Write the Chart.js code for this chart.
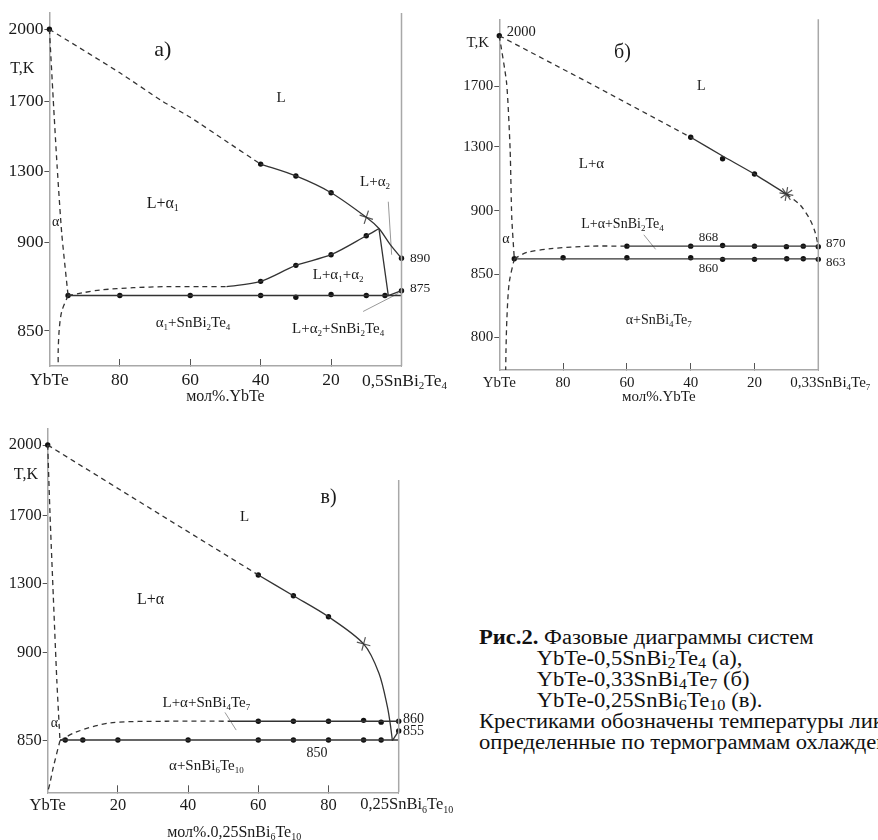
<!DOCTYPE html>
<html>
<head>
<meta charset="utf-8">
<script src="https://cdn.jsdelivr.net/npm/chart.js@4.4.1/dist/chart.umd.min.js"></script>
<style>
  body { margin: 0; width: 878px; height: 840px; overflow: hidden; background: #fff; position: relative; font-family: 'Liberation Serif', serif; }
  canvas { position: absolute; }
  #caption { position: absolute; left: 479px; top: 627px; font-size: 20px; line-height: 21px; color: #111; white-space: nowrap;
             transform: scaleX(1.13); transform-origin: 0 0; }
  #caption .ind { padding-left: 51px; }
  #caption sub { font-size: 0.72em; vertical-align: -0.22em; line-height: 0; }
</style>
</head>
<body>
<canvas id="ca" width="460" height="410" style="left:0;top:0"></canvas>
<canvas id="cb" width="438" height="410" style="left:440px;top:0"></canvas>
<canvas id="cc" width="460" height="432" style="left:0;top:410px"></canvas>
<div id="caption">
  <div><b>Рис.2.</b> Фазовые диаграммы систем</div>
  <div class="ind">YbTe-0,5SnBi<sub>2</sub>Te<sub>4</sub> (а),</div>
  <div class="ind">YbTe-0,33SnBi<sub>4</sub>Te<sub>7</sub> (б)</div>
  <div class="ind">YbTe-0,25SnBi<sub>6</sub>Te<sub>10</sub> (в).</div>
  <div>Крестиками обозначены температуры ликвидуса,</div>
  <div>определенные по термограммам охлаждения.</div>
</div>
<script>
// ---------- а) YbTe-0,5SnBi2Te4  (x = мол% YbTe) ----------
const aTicksX = [100, 80, 60, 40, 20, 0];
const aLabelsX = ['YbTe', '80', '60', '40', '20', ''];
const aEndLabel = '0,5SnBi_2Te_4';
const aTicksT = [850, 900, 1300, 1700, 2000];
const aLiqDashX = [100, 80, 68, 60, 50, 40];
const aLiqDashT = [2000, 1818, 1700, 1608, 1475, 1343];
const aLiqX = [40, 30, 20, 10, 6.4, 3.3, 0];
const aLiqT = [1343, 1276, 1181, 1042, 978, 899, 891];
const aLiqDotX = [40, 30, 20, 0];
const aLiqDotT = [1343, 1276, 1181, 891];
const aSolDashX = [94.7, 90.4, 85.6, 76.2, 66.7, 57.2, 49.7];
const aSolDashT = [870, 871.6, 873.1, 874.4, 875, 875, 875];
const aSolX = [49.7, 40, 30, 20, 10, 6.4];
const aSolT = [875, 878, 887, 893, 937, 978];
const aSolDotX = [40, 30, 20, 10];
const aSolDotT = [878, 887, 893, 937];
const aEutX = [94.7, 0];
const aEutT = [870, 870];
const aEutDotX = [94.7, 80, 60, 40, 30, 20, 10, 4.7, 0];
const aEutDotT = [870, 870, 870, 870, 869, 870.6, 870, 870, 872.7];
const aSolvusX = [6.4, 3.75, 0];
const aSolvusT = [978, 870, 872.7];
const aAlphaX = [100, 98.9, 97.8, 96.5, 94.7];
const aAlphaT = [2000, 1704, 1328, 951, 870];
const aAlphaLowX = [94.7, 96.5, 97.2, 97.5, 97.5];
const aAlphaLowT = [870, 861, 851, 839, 830];
const aCrossX = [10];
const aCrossT = [1042];

// ---------- б) YbTe-0,33SnBi4Te7  (x = мол% YbTe) ----------
const bTicksX = [100, 80, 60, 40, 20, 0];
const bLabelsX = ['YbTe', '80', '60', '40', '20', ''];
const bEndLabel = '0,33SnBi_4Te_7';
const bTicksT = [800, 850, 900, 1300, 1700];
const bLiqDashX = [100, 70, 40];
const bLiqDashT = [2000, 1700, 1362];
const bLiqX = [40, 30, 20, 10];
const bLiqT = [1362, 1242, 1129, 1004];
const bLiqDotX = [100, 40, 30, 20];
const bLiqDotT = [2000, 1362, 1225, 1129];
const bLiqTailX = [10, 5.7, 2.6, 1, 0];
const bLiqTailT = [1004, 936, 893, 883, 872];
const bAlphaX = [100, 97.7, 96.6, 96.1, 95.3];
const bAlphaT = [2000, 1716, 1279, 895, 862];
const bAlphaLowX = [95.3, 96.9, 97.6, 97.9, 98];
const bAlphaLowT = [862, 843, 816, 790, 774];
const bSolDashX = [95.3, 91.4, 83.8, 71.3, 60];
const bSolDashT = [862, 867, 870, 872, 872];
const bUpX = [60, 0];
const bUpT = [872, 872];
const bUpDotX = [60, 40, 30, 20, 10, 4.7, 0];
const bUpDotT = [872, 872, 872.5, 872, 871.6, 872, 871.6];
const bLowX = [95.3, 0];
const bLowT = [862, 862];
const bLowDotX = [95.3, 80, 60, 40, 30, 20, 9.9, 4.7, 0];
const bLowDotT = [862, 862.9, 862.9, 862.9, 861.6, 861.6, 862, 862, 861.6];
const bCrossX = [10];
const bCrossT = [1004];

// ---------- в) YbTe-0,25SnBi6Te10  (x = мол% 0,25SnBi6Te10) ----------
const cTicksX = [0, 20, 40, 60, 80, 100];
const cLabelsX = ['YbTe', '20', '40', '60', '80', ''];
const cEndLabel = '0,25SnBi_6Te_10';
const cTicksT = [850, 900, 1300, 1700, 2000];
const cLiqDashX = [0, 32.7, 60];
const cLiqDashT = [2000, 1700, 1353];
const cLiqX = [60, 70, 80, 90, 94.4, 96.8, 97.7, 98.2];
const cLiqT = [1353, 1231, 1108, 949, 888, 869, 858, 850];
const cLiqDotX = [0, 60, 70, 80];
const cLiqDotT = [2000, 1353, 1231, 1108];
const cLinkX = [98.2, 100];
const cLinkT = [850, 855.5];
const cAlphaX = [0, 0.65, 1.6, 2.6, 3.5];
const cAlphaT = [2000, 1711, 1226, 884, 850];
const cAlphaLowX = [3.5, 1.6, 0.65, 0];
const cAlphaLowT = [850, 835, 826, 821];
const cSolDashX = [3.5, 8.2, 17.7, 33.8, 52];
const cSolDashT = [850, 855, 860, 861, 861];
const cUpX = [52, 100];
const cUpT = [861, 861];
const cUpDotX = [60, 70, 80, 90, 95, 100, 100];
const cUpDotT = [861, 861, 861, 861.5, 860.5, 861, 855.5];
const cLowX = [3.5, 100];
const cLowT = [850.4, 850.4];
const cLowDotX = [5, 10, 20, 40, 60, 70, 80, 90, 95];
const cLowDotT = [850.4, 850.4, 850.4, 850.4, 850.4, 850.4, 850.4, 850.4, 850.4];
const cCrossX = [90];
const cCrossT = [949];

const SERIF = "'Liberation Serif', serif";
const INK = '#1a1a1a';
const LINE = '#333';
const FRAME = '#a8a8a8';

// piecewise (broken) temperature axis, knots = [value, fraction of plot height]
const brokenKnots = {};
class BrokenScale extends Chart.LinearScale {
  static id = 'broken';
  static defaults = { ticks: { callback: v => String(v) } };
  buildTicks() {
    return brokenKnots[this.chart.canvas.id].ticks.map(v => ({ value: v }));
  }
  frac(v) {
    const k = brokenKnots[this.chart.canvas.id].knots;
    let i = 0;
    while (i < k.length - 2 && v > k[i + 1][0]) i++;
    const [v0, f0] = k[i], [v1, f1] = k[i + 1];
    return f0 + (v - v0) / (v1 - v0) * (f1 - f0);
  }
  getPixelForValue(v) {
    return this.bottom - this.frac(v) * (this.bottom - this.top);
  }
  getValueForPixel(p) {
    const k = brokenKnots[this.chart.canvas.id].knots;
    const f = (this.bottom - p) / (this.bottom - this.top);
    let i = 0;
    while (i < k.length - 2 && f > k[i + 1][1]) i++;
    const [v0, f0] = k[i], [v1, f1] = k[i + 1];
    return v0 + (f - f0) / (f1 - f0) * (v1 - v0);
  }
}
Chart.register(BrokenScale);

function pts(xs, ys) { return xs.map((x, i) => ({ x: x, y: ys[i] })); }
function curve(xs, ys, dashed, tension) {
  return { data: pts(xs, ys), borderColor: LINE, borderWidth: 1.3, borderDash: dashed ? [5, 4] : [],
           pointRadius: 0, tension: tension || 0, fill: false, clip: false };
}
function dots(xs, ys) {
  return { data: pts(xs, ys), showLine: false, pointRadius: 2.7, pointBackgroundColor: '#111',
           pointBorderWidth: 0, clip: false };
}
function cross(xs, ys, style, rot) {
  return { data: pts(xs, ys), showLine: false, pointStyle: style, pointRadius: 7, pointRotation: rot,
           pointBorderColor: '#555', pointBorderWidth: 1.2, clip: false };
}
function leader(xs, ys) {
  return { data: pts(xs, ys), borderColor: '#999', borderWidth: 1, pointRadius: 0, clip: false };
}

// text with _digits subscripts
function drawRich(ctx, text, px, py, size, align) {
  const parts = [];
  text.replace(/_(\d+)|[^_]+/g, (m, sub) => { parts.push(sub ? [sub, true] : [m, false]); return m; });
  const big = size + 'px ' + SERIF, small = Math.round(size * 0.62) + 'px ' + SERIF;
  let w = 0;
  parts.forEach(p => { ctx.font = p[1] ? small : big; p.push(ctx.measureText(p[0]).width); w += p[2]; });
  let cx = align === 'left' ? px : align === 'right' ? px - w : px - w / 2;
  ctx.textAlign = 'left';
  ctx.textBaseline = 'middle';
  parts.forEach(p => {
    ctx.font = p[1] ? small : big;
    ctx.fillText(p[0], cx, p[1] ? py + size * 0.3 : py);
    cx += p[2];
  });
}

function makeChart(cfg) {
  brokenKnots[cfg.id] = { knots: cfg.knots, ticks: cfg.tTicks };
  const textPlugin = {
    id: 'phaseText' + cfg.id,
    afterDraw(chart) {
      const { ctx, chartArea } = chart;
      const x = chart.scales.x, y = chart.scales.y;
      ctx.save();
      ctx.strokeStyle = FRAME;
      ctx.lineWidth = 1.5;
      const rx = x.getPixelForValue(cfg.rightX);
      ctx.beginPath();
      ctx.moveTo(rx, cfg.rightTop ? y.getPixelForValue(cfg.rightTop) : chartArea.top);
      ctx.lineTo(rx, chartArea.bottom);
      ctx.stroke();
      ctx.fillStyle = INK;
      // end-member label under the right end of the axis
      drawRich(ctx, cfg.endLabel, rx + cfg.endDx, chartArea.bottom + cfg.endDy, cfg.tickFont, 'center');
      if (cfg.richTitle) {
        drawRich(ctx, cfg.richTitle, (chartArea.left + chartArea.right) / 2 + 11, chartArea.bottom + 40, 16, 'center');
      }
      cfg.labels.forEach(l => drawRich(ctx, l[0], x.getPixelForValue(l[1]), y.getPixelForValue(l[2]), l[3], l[4] || 'center'));
      ctx.restore();
    }
  };
  const canvas = document.getElementById(cfg.id);
  return new Chart(canvas, {
    type: 'line',
    data: { datasets: cfg.datasets },
    options: {
      responsive: false,
      animation: false,
      events: [],
      layout: { padding: { left: 0, top: cfg.top, right: cfg.right, bottom: 0 } },
      plugins: { legend: { display: false }, tooltip: { enabled: false } },
      scales: {
        x: {
          type: 'linear', min: 0, max: 100, reverse: cfg.reverse,
          afterBuildTicks: s => { s.ticks = cfg.xTicks.map(v => ({ value: v })); },
          afterFit: s => { s.height = cfg.xH; },
          ticks: { autoSkip: false, maxRotation: 0, padding: cfg.xPad, color: INK,
                   font: { family: SERIF, size: cfg.tickFont },
                   callback: (v, i) => cfg.xLabels[i] },
          grid: { drawOnChartArea: false, tickLength: -7, tickColor: '#555', lineWidth: 1 },
          border: { color: FRAME, width: 1.5 },
          title: { display: !cfg.richTitle, text: cfg.xTitle, color: INK, font: { family: SERIF, size: cfg.titleFont },
                   padding: { top: 0, bottom: cfg.titlePad } }
        },
        y: {
          type: 'broken', min: cfg.knots[0][0], max: cfg.knots[cfg.knots.length - 1][0],
          afterFit: s => { s.width = cfg.left; },
          ticks: { autoSkip: false, padding: 1, color: INK, font: { family: SERIF, size: cfg.tickFont },
                   callback: v => String(v) },
          grid: { drawOnChartArea: false, tickLength: 5, tickColor: '#555', lineWidth: 1 },
          border: { color: FRAME, width: 1.5 }
        }
      }
    },
    plugins: [textPlugin]
  });
}

// а)
makeChart({
  id: 'ca', reverse: true, left: 49.4, right: 58.5, top: 13, xH: 44, xPad: 11, tickFont: 17.5,
  titleFont: 16, titlePad: 4, xTitle: 'мол%.YbTe', xTicks: aTicksX, xLabels: aLabelsX, tTicks: aTicksT,
  endLabel: aEndLabel, endDx: 3, endDy: 15,
  knots: [[830, 0], [850, 0.0992], [900, 0.3504], [1300, 0.5504], [1700, 0.7507], [2000, 0.9538], [2067, 1]],
  rightX: 0,
  datasets: [
    curve(aLiqDashX, aLiqDashT, true, 0.2),
    curve(aLiqX, aLiqT, false, 0.3),
    curve(aSolDashX, aSolDashT, true, 0.3),
    curve(aSolX, aSolT, false, 0.3),
    curve(aEutX, aEutT, false),
    curve(aSolvusX, aSolvusT, false),
    curve(aAlphaX, aAlphaT, true, 0.2),
    curve(aAlphaLowX, aAlphaLowT, true, 0.3),
    leader([3.75, 2.8], [1130, 893]),
    leader([10.9, 0.9], [861, 871.2]),
    dots(aLiqDotX, aLiqDotT),
    dots(aSolDotX, aSolDotT),
    dots(aEutDotX, aEutDotT),
    dots([100], [2000]),
    cross(aCrossX, aCrossT, 'cross', 18)
  ],
  labels: [
    ['а)', 67.8, 1913, 22], ['T,K', 107.7, 1834, 16], ['L', 34.2, 1711, 15],
    ['L+α_1', 67.8, 1117, 16], ['α', 98.2, 1015, 14], ['L+α_2', 7.5, 1242, 15],
    ['890', -2.4, 891, 13.5, 'left'], ['875', -2.4, 874.2, 13.5, 'left'],
    ['L+α_1+α_2', 18, 881.6, 15], ['α_1+SnBi_2Te_4', 59.2, 854.7, 15],
    ['L+α_2+SnBi_2Te_4', 18, 851.2, 15]
  ]
});

// б)
makeChart({
  id: 'cb', reverse: true, left: 59.3, right: 59.7, top: 19.3, xH: 40, xPad: 11, tickFont: 15,
  titleFont: 15, titlePad: 4, xTitle: 'мол%.YbTe', xTicks: bTicksX, xLabels: bLabelsX, tTicks: bTicksT,
  endLabel: bEndLabel, endDx: 12, endDy: 13,
  knots: [[774, 0], [800, 0.0932], [850, 0.2737], [900, 0.4542], [1300, 0.6367], [1700, 0.8098], [2000, 0.9532], [2098, 1]],
  rightX: 0,
  datasets: [
    curve(bLiqDashX, bLiqDashT, true),
    curve(bLiqX, bLiqT, false, 0.2),
    curve(bLiqTailX, bLiqTailT, true, 0.3),
    curve(bAlphaX, bAlphaT, true, 0.2),
    curve(bAlphaLowX, bAlphaLowT, true, 0.3),
    curve(bSolDashX, bSolDashT, true, 0.3),
    curve(bUpX, bUpT, false),
    curve(bLowX, bLowT, false),
    leader([54.7, 51], [881, 869.5]),
    dots(bLiqDotX, bLiqDotT),
    dots(bUpDotX, bUpDotT),
    dots(bLowDotX, bLowDotT),
    cross(bCrossX, bCrossT, 'star', 10)
  ],
  labels: [
    ['б)', 61.4, 1899, 20], ['2000', 97.7, 2022, 14.5, 'left'], ['T,K', 106.75, 1958, 15],
    ['L', 36.7, 1697, 14], ['L+α', 71.1, 1192, 15], ['α', 97.9, 877.6, 14],
    ['L+α+SnBi_2Te_4', 61.4, 889.5, 14], ['868', 34.4, 879, 13], ['860', 34.4, 854.5, 13],
    ['870', -2.4, 874.3, 13, 'left'], ['863', -2.4, 859, 13, 'left'],
    ['α+SnBi_4Te_7', 50, 813.7, 14]
  ]
});

// в)
makeChart({
  id: 'cc', reverse: false, left: 47.7, right: 61.3, top: 18.3, xH: 49.7, xPad: 10, tickFont: 16.5,
  titleFont: 16, titlePad: 0, xTitle: '', richTitle: 'мол%.0,25SnBi_6Te_10', xTicks: cTicksX, xLabels: cLabelsX, tTicks: cTicksT,
  endLabel: cEndLabel, endDx: 8, endDy: 12.7,
  knots: [[820.8, 0], [850, 0.1418], [900, 0.3846], [1300, 0.5723], [1700, 0.7591], [2000, 0.9541], [2070, 1]],
  rightX: 100, rightTop: 1852,
  datasets: [
    curve(cLiqDashX, cLiqDashT, true),
    curve(cLiqX, cLiqT, false, 0.3),
    curve(cLinkX, cLinkT, false),
    curve(cAlphaX, cAlphaT, true, 0.2),
    curve(cAlphaLowX, cAlphaLowT, true, 0.3),
    curve(cSolDashX, cSolDashT, true, 0.3),
    curve(cUpX, cUpT, false),
    curve(cLowX, cLowT, false),
    leader([50.5, 53.7], [866, 856]),
    dots(cLiqDotX, cLiqDotT),
    dots(cUpDotX, cUpDotT),
    dots(cLowDotX, cLowDotT),
    cross(cCrossX, cCrossT, 'cross', 15)
  ],
  labels: [
    ['в)', 80, 1775, 20], ['T,K', -6.2, 1873, 16], ['L', 56.1, 1693, 15],
    ['L+α', 29.3, 1210, 16], ['α', 1.9, 859.8, 14], ['L+α+SnBi_4Te_7', 45.2, 871.2, 15],
    ['860', 101.2, 862.3, 14, 'left'], ['855', 101.2, 855.5, 14, 'left'],
    ['850', 76.7, 842.9, 14], ['α+SnBi_6Te_10', 45.2, 835.6, 15]
  ]
});
</script>
</body>
</html>
